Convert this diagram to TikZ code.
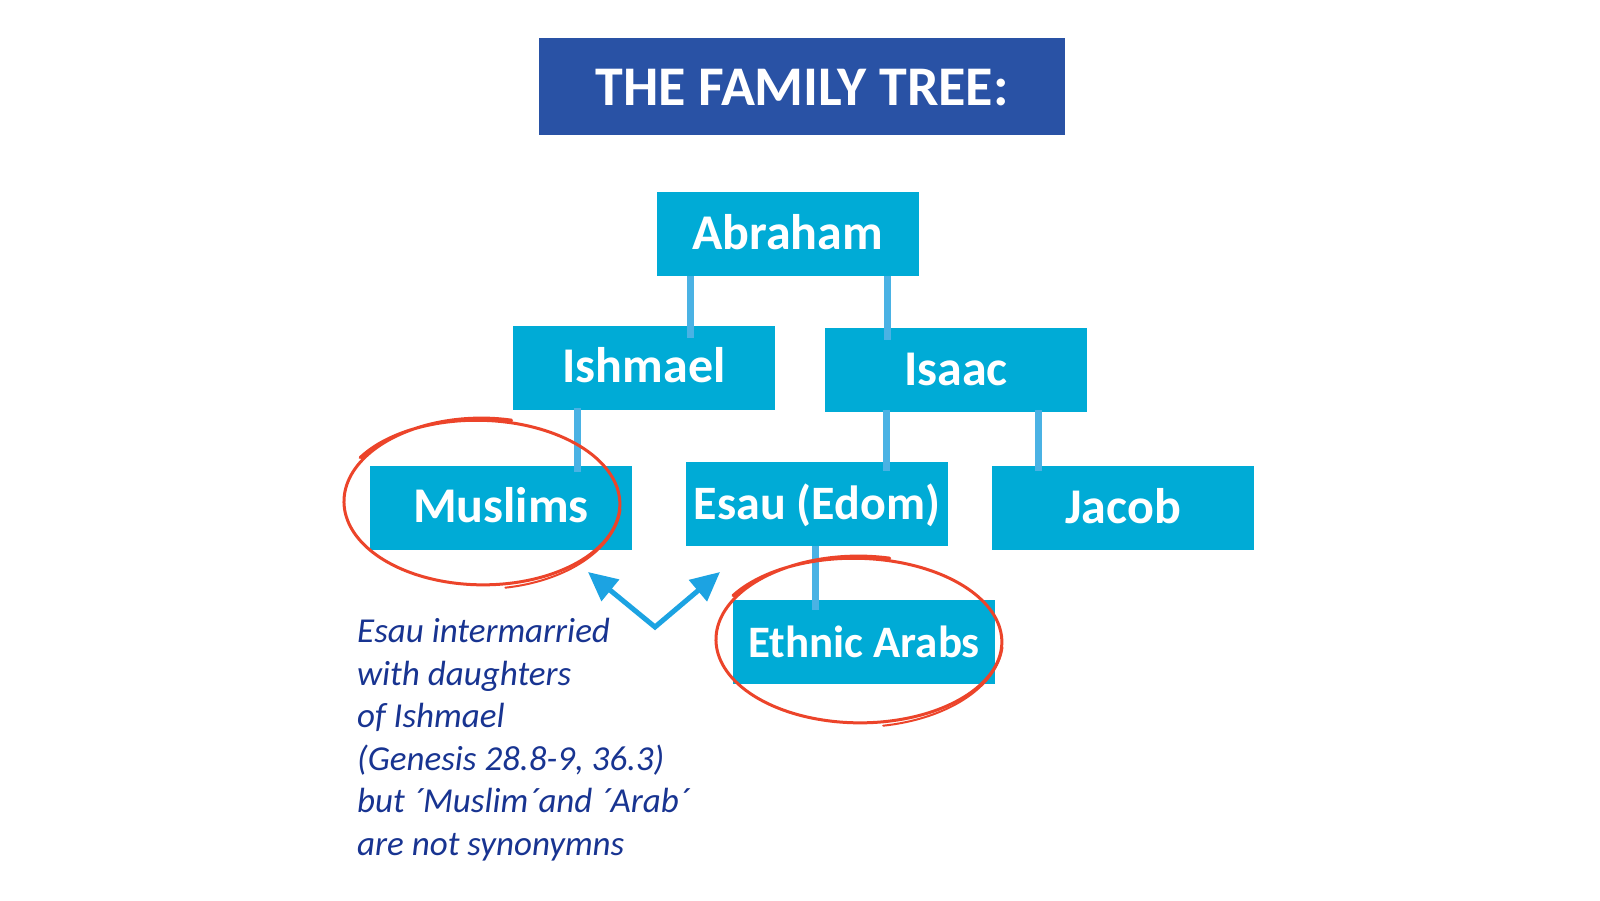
\documentclass[tikz,border=0pt]{standalone}
\usepackage{fontspec}
\setmainfont{Carlito}
\usetikzlibrary{arrows.meta,calc}

\definecolor{titleblue}{RGB}{41,82,165}
\definecolor{boxblue}{RGB}{0,171,214}
\definecolor{linkblue}{RGB}{74,178,228}
\definecolor{loopred}{RGB}{236,68,42}
\definecolor{noteblue}{RGB}{24,52,145}
\definecolor{arrowblue}{RGB}{28,163,226}

% hand drawn ring: centre x, centre y, x radius, y radius, start angle
\newcommand{\redloop}[5]{%
  \draw[loopline] plot[domain=0:430, samples=180, smooth, variable=\s]
    ({#1 + (#3 + 0.010*\s)*cos(#5-\s) + 0.014*\s*sin(#5-\s)},
     {#2 + (#4 - 0.006*\s)*sin(#5-\s)});
  \draw[loopline, line width=2pt] plot[domain=0:75, samples=40, smooth, variable=\s]
    ({#1 + (#3 + 4)*cos(5+\s)}, {#2 + (#4 + 3)*sin(5+\s)});
}

\begin{document}
\begin{tikzpicture}[x=1pt,y=-1pt]
    \tikzstyle{member}=[rectangle, fill=boxblue, text=white, inner sep=0pt,
        minimum width=262pt, minimum height=84pt, text height=37.5pt, text depth=7.5pt,
        font=\bfseries\fontsize{50}{60}\selectfont]
    \tikzstyle{heading}=[rectangle, fill=titleblue, text=white, inner sep=0pt,
        minimum width=526pt, minimum height=97pt, text height=45pt, text depth=7pt,
        font=\bfseries\fontsize{56}{66}\selectfont]
    \tikzstyle{link}=[draw=linkblue, line width=7pt]
    \tikzstyle{loopline}=[draw=loopred, line width=3pt, line cap=round]
    \tikzstyle{pointer}=[draw=arrowblue, line width=5pt,
        {Triangle[length=29pt,width=27pt]}-{Triangle[length=29pt,width=27pt]}]
    \tikzstyle{note}=[inner sep=0pt, align=left, text=noteblue,
        font=\itshape\fontsize{35}{42.5}\selectfont]

    \useasboundingbox[fill=white] (0,0) rectangle (1600,900);

    \node[heading] (title) at (802,86.5) {THE FAMILY TREE:};

    \node[member] (abraham) at (787.5,234)  {Abraham};
    \node[member] (ishmael) at (644,367.5)  {Ishmael};
    \node[member] (isaac)   at (956,370)    {Isaac};
    \node[member] (muslims) at (501,507.5)  {Muslims};
    \node[member, font=\bfseries\fontsize{48}{58}\selectfont] (esau) at (817,504) {Esau (Edom)};
    \node[member] (jacob)   at (1123,508)   {Jacob};
    \node[member, font=\bfseries\fontsize{45}{54}\selectfont] (arabs) at (864,642) {Ethnic Arabs};

    % family lines
    \draw[link] ($(abraham.south)+(-97.5,0)$) -- ($(ishmael.north)+(46,13)$);
    \draw[link] ($(abraham.south)+(99.5,0)$)  -- ($(isaac.north)+(-69,12)$);
    \draw[link] ($(ishmael.south)+(-67,-2)$)  -- ($(muslims.north)+(76,7)$);
    \draw[link] ($(isaac.south)+(-70,-2)$)    -- ($(esau.north)+(69,9)$);
    \draw[link] ($(isaac.south)+(82,-2)$)     -- ($(jacob.north)+(-85,5)$);
    \draw[link] ($(esau.south)+(-2,0)$)       -- ($(arabs.north)+(-49,10)$);

    % rings round the two groups
    \redloop{481}{502}{136}{84}{283}
    \redloop{858}{640}{141}{84}{283}

    \coordinate (lefttip)  at (588,572);
    \coordinate (bend)     at (655,627);
    \coordinate (righttip) at (720,572);
    \draw[pointer] (lefttip) -- (bend) -- (righttip);

    \node[note, anchor=north west] (remark) at (357,618)
        {Esau intermarried\\with daughters\\of Ishmael\\(Genesis 28.8-9, 36.3)\\but ´Muslim´and ´Arab´\\are not synonymns};
\end{tikzpicture}
\end{document}
